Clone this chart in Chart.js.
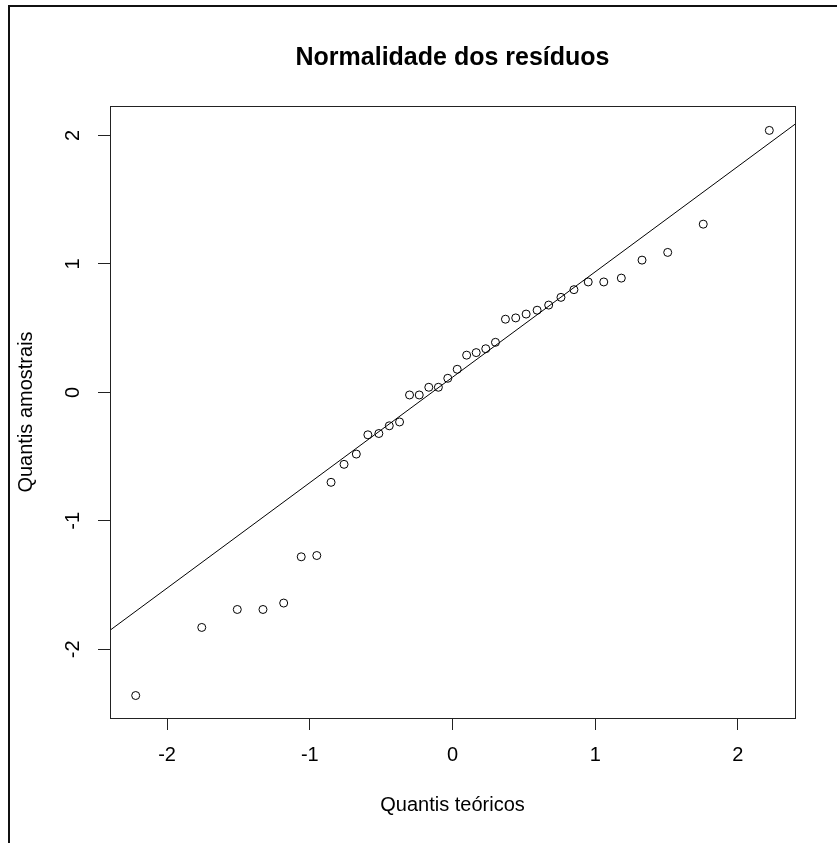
<!DOCTYPE html>
<html>
<head>
<meta charset="utf-8">
<title>Normalidade dos resíduos</title>
<script src="https://cdn.jsdelivr.net/npm/chart.js@4.4.0/dist/chart.umd.min.js"></script>
<style>
    body { margin: 0; background: #fff; }
    canvas { display: block; }
</style>
</head>
<body>
<canvas id="qq-chart" width="837" height="843"></canvas>
<script>
// Theoretical quantiles (x) and sample quantiles (y)
const theoretical = [-2.220, -1.757, -1.508, -1.328, -1.183, -1.060, -0.951, -0.851, -0.760, -0.674,
    -0.593, -0.516, -0.443, -0.371, -0.301, -0.233, -0.166, -0.099, -0.033, 0.033,
    0.099, 0.166, 0.233, 0.301, 0.371, 0.443, 0.516, 0.593, 0.674, 0.760,
    0.851, 0.951, 1.060, 1.183, 1.328, 1.508, 1.757, 2.220];
const sample = [-2.36, -1.83, -1.69, -1.69, -1.64, -1.28, -1.27, -0.70, -0.56, -0.48,
    -0.33, -0.32, -0.26, -0.23, -0.02, -0.02, 0.04, 0.04, 0.11, 0.18,
    0.29, 0.31, 0.34, 0.39, 0.57, 0.58, 0.61, 0.64, 0.68, 0.74,
    0.80, 0.86, 0.86, 0.89, 1.03, 1.09, 1.31, 2.04];

// Reference line (qqline) end points
const lineX = [-2.40, 2.40];
const lineY = [-1.852, 2.088];

// Ticks
const xTicks = [-2, -1, 0, 1, 2];
const xTickLabels = ['-2', '-1', '0', '1', '2'];
const yTicks = [-2, -1, 0, 1, 2];
const yTickLabels = ['-2', '-1', '0', '1', '2'];

const chartTitle = 'Normalidade dos resíduos';
const FONT = '"Liberation Sans", Arial, sans-serif';

// R-style box, title centred over the plot, rotated y tick labels, outer frame
const rStylePlugin = {
    id: 'rStyle',
    beforeDraw(chart) {
        const ctx = chart.ctx;
        ctx.save();
        ctx.fillStyle = '#fff';
        ctx.fillRect(0, 0, chart.width, chart.height);
        ctx.fillStyle = '#111';
        ctx.fillRect(8, 5, chart.width - 8, 2);
        ctx.fillRect(8, 5, 2, chart.height - 5);
        ctx.restore();
    },
    afterDraw(chart) {
        const ctx = chart.ctx;
        const a = chart.chartArea;
        ctx.save();
        ctx.strokeStyle = '#222';
        ctx.lineWidth = 1;
        ctx.strokeRect(Math.round(a.left) + 0.5, Math.round(a.top) + 0.5,
            Math.round(a.right - a.left), Math.round(a.bottom - a.top));

        // title
        ctx.fillStyle = '#000';
        ctx.textAlign = 'center';
        ctx.textBaseline = 'middle';
        ctx.font = 'bold 25px ' + FONT;
        ctx.fillText(chartTitle, (a.left + a.right) / 2, 58);

        // y tick labels, rotated like R's default
        const yScale = chart.scales.y;
        ctx.font = '20px ' + FONT;
        yTicks.forEach((v, i) => {
            ctx.save();
            ctx.translate(73, yScale.getPixelForValue(v));
            ctx.rotate(-Math.PI / 2);
            ctx.fillText(yTickLabels[i], 0, 0);
            ctx.restore();
        });
        ctx.restore();
    }
};

const ctx = document.getElementById('qq-chart').getContext('2d');
new Chart(ctx, {
    type: 'scatter',
    data: {
        datasets: [{
            label: 'Resíduos',
            data: theoretical.map((x, i) => ({ x: x, y: sample[i] })),
            pointStyle: 'circle',
            pointRadius: 4,
            pointBorderWidth: 1,
            borderColor: '#000',
            backgroundColor: 'transparent'
        }, {
            label: 'qqline',
            data: lineX.map((x, i) => ({ x: x, y: lineY[i] })),
            showLine: true,
            pointRadius: 0,
            borderColor: '#000',
            borderWidth: 1
        }]
    },
    options: {
        responsive: false,
        animation: false,
        devicePixelRatio: 1,
        layout: { padding: { left: 0, right: 42, top: 106, bottom: 0 } },
        plugins: {
            legend: { display: false },
            tooltip: { enabled: false },
            title: { display: false }
        },
        scales: {
            x: {
                type: 'linear',
                min: -2.40,
                max: 2.40,
                afterFit: scale => { scale.height = 125; },
                afterBuildTicks: scale => { scale.ticks = xTicks.map(v => ({ value: v })); },
                border: { display: false },
                grid: { drawOnChartArea: false, drawTicks: true, tickLength: 12, color: '#222' },
                ticks: {
                    padding: 13,
                    color: '#000',
                    font: { family: FONT, size: 20 },
                    maxRotation: 0,
                    callback: (v) => xTickLabels[xTicks.indexOf(v)]
                },
                title: {
                    display: true,
                    text: 'Quantis teóricos',
                    color: '#000',
                    font: { family: FONT, size: 20 },
                    padding: { bottom: 26 }
                }
            },
            y: {
                type: 'linear',
                min: -2.535,
                max: 2.23,
                afterFit: scale => { scale.width = 110; },
                afterBuildTicks: scale => { scale.ticks = yTicks.map(v => ({ value: v })); },
                border: { display: false },
                grid: { drawOnChartArea: false, drawTicks: true, tickLength: 12, color: '#222' },
                ticks: { display: false },
                title: {
                    display: true,
                    text: 'Quantis amostrais',
                    color: '#000',
                    font: { family: FONT, size: 20 },
                    padding: { top: 14 }
                }
            }
        }
    },
    plugins: [rStylePlugin]
});
</script>
</body>
</html>
